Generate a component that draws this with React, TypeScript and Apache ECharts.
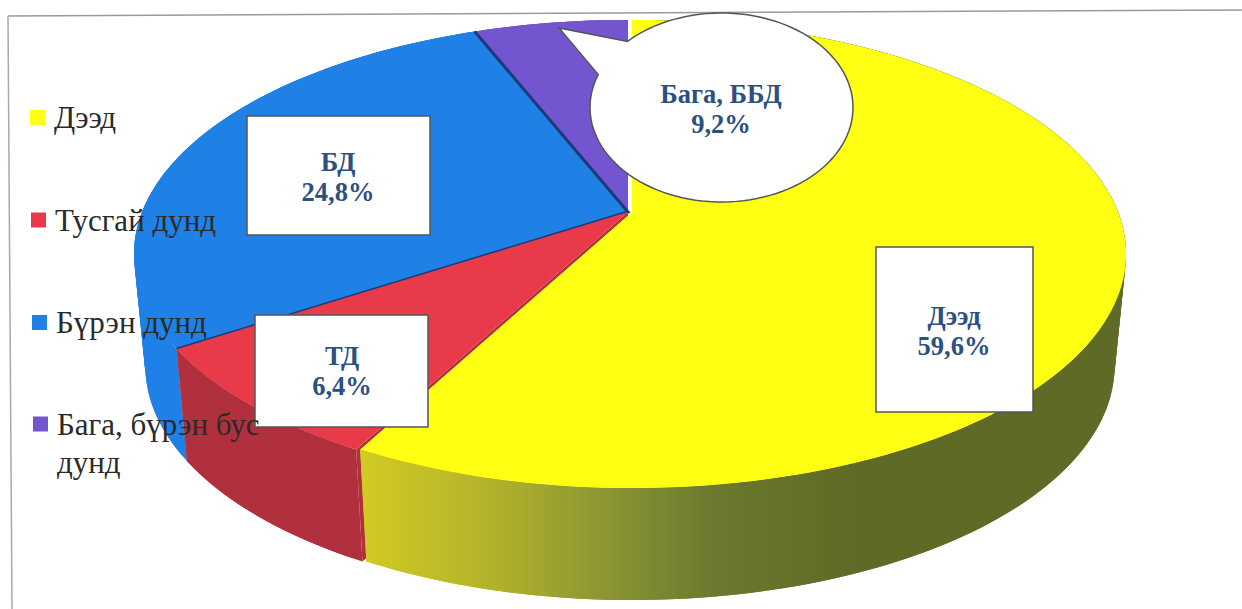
import React, { useEffect, useRef } from "react";
import * as echarts from "echarts";

// Slice names as in the legend, in drawing order clockwise from the top
const categories = ["Дээд", "Тусгай дунд", "Бүрэн дунд", "Бага, бүрэн бус дунд"];
// Printed labels
const labelNames = ["Дээд", "ТД", "БД", "Бага, ББД"];
const labelValues = ["59,6%", "6,4%", "24,8%", "9,2%"];
// Slice sizes as they are drawn in the picture (%)
const drawnShares = [57.8, 8, 28.2, 6];

const topColors = ["#ffff14", "#e93a4a", "#1f80e6", "#7355d0"];
const wallColors: any[] = [
  new echarts.graphic.LinearGradient(360, 0, 860, 0, [
    { offset: 0, color: "#d2cb22" },
    { offset: 0.25, color: "#b4b42a" },
    { offset: 0.5, color: "#8a9432" },
    { offset: 0.7, color: "#6b7a2e" },
    { offset: 1, color: "#5f6a26" },
  ], true),
  "#b0303e",
  "#1f80e6",
  "#6a50c0",
];

// Perspective pie geometry
const APEX_X = 628;
const APEX_Y = 212;
const KX = 486;
const KY = 226.5;
const PERSP = -0.1795;
const DEPTH = 112;
const SHRINK = 0.977;
const OFFSETS = [4, 0, 0, 0];

const rim = (share: number, dx: number) => {
  const t = (share / 100) * Math.PI * 2;
  const X = Math.sin(t);
  const Y = -Math.cos(t);
  const d = 1 + PERSP * Y;
  return [APEX_X + dx + (KX * X) / d, APEX_Y + (KY * Y) / d];
};
const lower = (p: number[]) => [APEX_X + (p[0] - APEX_X) * SHRINK, p[1] + DEPTH];

const sliceSeries = (i: number, start: number) => ({
  type: "custom",
  name: categories[i],
  coordinateSystem: "none",
  silent: true,
  itemStyle: { color: topColors[i] },
  data: [[start, drawnShares[i], i]],
  renderItem: (_: any, api: any) => {
    const s = api.value(0);
    const v = api.value(1);
    const idx = api.value(2);
    const dx = OFFSETS[idx];
    const arc: number[][] = [];
    const steps = Math.max(12, Math.round(v * 3));
    for (let k = 0; k <= steps; k++) arc.push(rim(s + (v * k) / steps, dx));
    const apex = [APEX_X + dx, APEX_Y];
    const children: any[] = [];
    if (idx === 1) {
      children.push({
        type: "polygon",
        shape: { points: [apex, arc[0], lower(arc[0]), lower(apex)] },
        style: { fill: wallColors[idx] },
      });
    }
    // overlapping wall pieces, so that no seams show between them
    for (let k = 0; k < steps; k++) {
      const n = Math.min(k + 2, steps);
      children.push({
        type: "polygon",
        shape: { points: [arc[k], arc[n], lower(arc[n]), lower(arc[k])] },
        style: { fill: wallColors[idx] },
      });
    }
    children.push({
      type: "polygon",
      shape: { points: [apex, ...arc] },
      style: { fill: topColors[idx] },
    });
    if (idx === 2) {
      children.push({
        type: "polyline",
        shape: { points: [arc[0], apex, arc[arc.length - 1]] },
        style: { fill: "none", stroke: "#1b3a78", lineWidth: 3 },
      });
    }
    return { type: "group", children };
  },
});

const legendSpots = [
  { left: 30, top: 98.5 },
  { left: 31, top: 201 },
  { left: 32, top: 303.5 },
  { left: 33, top: 367 },
];

const boxes = [
  { x: 876, y: 247, w: 157, h: 165, cx: 954, cy: 331 },
  { x: 255, y: 315, w: 173, h: 112, cx: 342, cy: 371 },
  { x: 247, y: 116, w: 183, h: 119, cx: 338, cy: 177 },
];

const calloutPoints = () => {
  const pts: number[][] = [];
  const from = -135.6;
  const to = 202;
  for (let a = from; a <= to; a += 3) {
    const r = (a * Math.PI) / 180;
    pts.push([721.5 + 131.5 * Math.cos(r), 107.5 + 94.5 * Math.sin(r)]);
  }
  pts.push([559, 28]);
  return pts;
};

const labelText = (name: string, value: string, cx: number, cy: number) => ({
  type: "text",
  z: 12,
  x: cx,
  y: cy,
  style: {
    text: `${name}\n${value}`,
    fontFamily: "Liberation Serif",
    fontWeight: "bold",
    fontSize: 26.5,
    lineHeight: 30,
    fill: "#2c5080",
    align: "center",
    verticalAlign: "middle",
  },
});

export default function App() {
  const ref = useRef<HTMLDivElement>(null);
  useEffect(() => {
    if (!ref.current) return;
    const chart = echarts.init(ref.current, undefined, { renderer: "svg" });
    const starts: number[] = [];
    drawnShares.reduce((acc, v, i) => {
      starts[i] = acc;
      return acc + v;
    }, 0);
    const order = [3, 2, 1, 0];
    chart.setOption({
      animation: false,
      backgroundColor: "#ffffff",
      legend: categories.map((c, i) => ({
        data: [c],
        left: legendSpots[i].left,
        top: legendSpots[i].top,
        orient: "vertical",
        icon: "rect",
        itemWidth: 15,
        itemHeight: 15,
        itemGap: 0,
        padding: 0,
        z: 20,
        selectedMode: false,
        formatter: (n: string) =>
          n === "Бага, бүрэн бус дунд" ? "\nБага, бүрэн бус\nдунд" : n,
        textStyle: {
          fontFamily: "Liberation Serif",
          fontSize: 31,
          lineHeight: 38,
          color: "#2a2a2a",
          padding: [0, 0, 0, 4],
        },
      })),
      series: order.map((i) => sliceSeries(i, starts[i])),
      graphic: [
        { type: "line", z: 1, shape: { x1: 8, y1: 16, x2: 1242, y2: 10 }, style: { stroke: "#9a9a9a", lineWidth: 1.5 } },
        { type: "line", z: 1, shape: { x1: 8, y1: 16, x2: 12, y2: 609 }, style: { stroke: "#a8a8b0", lineWidth: 1.5 } },
        ...boxes.map((b) => ({
          type: "rect",
          z: 10,
          shape: { x: b.x, y: b.y, width: b.w, height: b.h },
          style: { fill: "#ffffff", stroke: "#555555", lineWidth: 1.5 },
        })),
        {
          type: "polygon",
          z: 10,
          shape: { points: calloutPoints() },
          style: { fill: "#ffffff", stroke: "#555555", lineWidth: 1.5 },
        },
        labelText(labelNames[0], labelValues[0], boxes[0].cx, boxes[0].cy),
        labelText(labelNames[1], labelValues[1], boxes[1].cx, boxes[1].cy),
        labelText(labelNames[2], labelValues[2], boxes[2].cx, boxes[2].cy),
        labelText(labelNames[3], labelValues[3], 721, 109),
      ],
    });
    return () => chart.dispose();
  }, []);
  return (
    <div
      ref={ref}
      style={{ position: "absolute", left: 0, top: 0, width: 1242, height: 609 }}
    />
  );
}
